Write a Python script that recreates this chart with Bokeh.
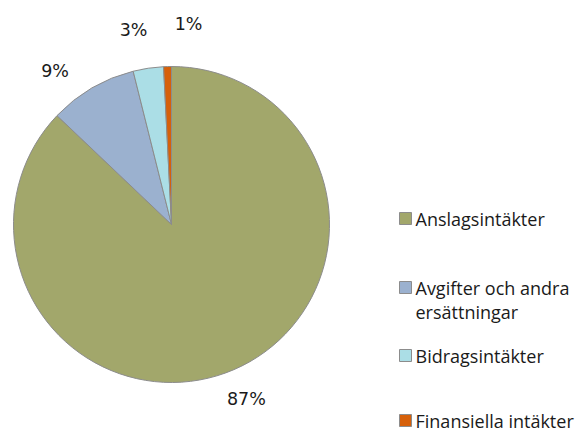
import math
from bokeh.plotting import figure
from bokeh.models import Range1d, ColumnDataSource
from bokeh.core.properties import value
from bokeh.embed import file_html
from bokeh.resources import INLINE

# data
categories = ["Anslagsintäkter", "Avgifter och andra ersättningar", "Bidragsintäkter", "Finansiella intäkter"]
shares = [87.1, 9.0, 3.1, 0.8]
pct_labels = ["87%", "9%", "3%", "1%"]
legend_lines = [["Anslagsintäkter"], ["Avgifter och andra", "ersättningar"], ["Bidragsintäkter"], ["Finansiella intäkter"]]
colors = ["#A2A76B", "#9BB1CF", "#ABDEE6", "#D6600A"]

W, H = 585, 433
p = figure(width=W, height=H, output_backend="svg", toolbar_location=None,
           x_range=Range1d(0, W), y_range=Range1d(0, H),
           x_axis_type=None, y_axis_type=None, min_border=0)
p.grid.visible = False
p.outline_line_color = None
p.background_fill_color = "white"

cx, cy, R = 171, H - 224, 158
total = sum(shares)
starts, ends, mids = [], [], []
a = math.pi / 2
for s in shares:
    sweep = 2 * math.pi * s / total
    starts.append(a)
    ends.append(a - sweep)
    mids.append(a - sweep / 2)
    a -= sweep

src = ColumnDataSource(dict(start=starts, end=ends, color=colors))
p.wedge(x=cx, y=cy, radius=R, start_angle="start", end_angle="end", direction="clock",
        fill_color="color", line_color="#8C8C8C", line_width=1, source=src)

# percentage labels (placed outside, with small angle shifts to avoid overlap)
ang_shift = [0.0, 0.12, 0.045, -0.11]
rad = [190, 193, 198, 201]
lx = [cx + r * math.cos(m + d) for m, d, r in zip(mids, ang_shift, rad)]
ly = [cy + r * math.sin(m + d) for m, d, r in zip(mids, ang_shift, rad)]
p.text(x=lx, y=ly, text=pct_labels, text_align="center", text_baseline="middle",
       text_font=value("DejaVu Sans"), text_font_size="17.5px", text_color="#1a1a1a")

# legend
leg_y = [H - 218, H - 287, H - 355, H - 420]
p.rect(x=[405] * 4, y=leg_y, width=12, height=12, fill_color=colors, line_color="#8C8C8C", line_width=1)
tx, ty, tt = [], [], []
for y0, lines in zip(leg_y, legend_lines):
    for i, ln in enumerate(lines):
        tx.append(415)
        ty.append(y0 - i * 24)
        tt.append(ln)
p.text(x=tx, y=ty, text=tt, text_align="left", text_baseline="middle",
       text_font=value("Open Sans"), text_font_size="18px", text_color="#1a1a1a")

open("out.html", "w").write(file_html(p, INLINE))
